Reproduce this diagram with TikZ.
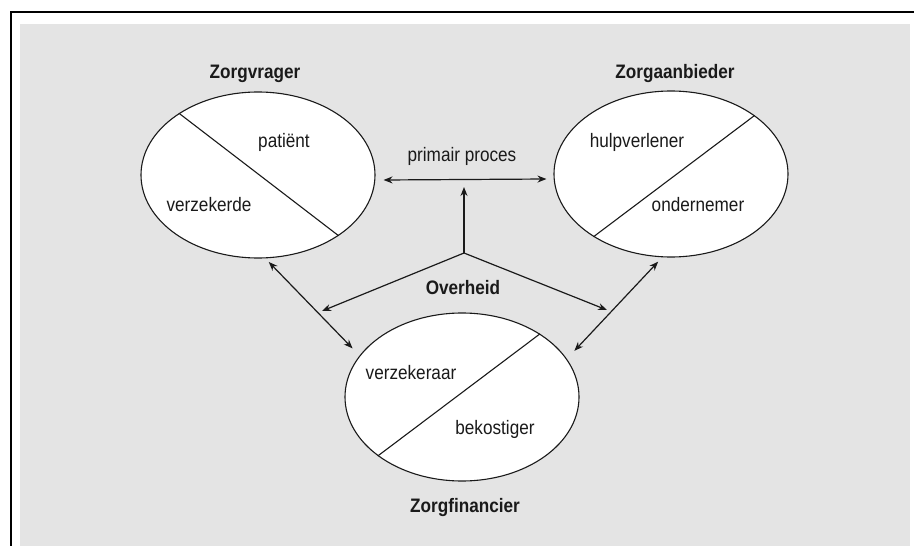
\documentclass[tikz,border=0pt]{standalone}
\usepackage{fontspec}
\setmainfont{Liberation Sans}[FakeStretch=0.88]
\usetikzlibrary{arrows.meta,calc,shapes.geometric}
\definecolor{panelF}{HTML}{E4E4E4}
\definecolor{lineC}{HTML}{1A1A1A}
\tikzset{
  oval/.style={ellipse, draw=lineC, fill=white, line width=1.1pt, minimum width=234pt,
               minimum height=166pt, inner sep=0pt},
  split/.style={draw=lineC, line width=1.1pt},
  txt/.style={anchor=base, inner sep=0pt, font=\fontsize{19.5}{22}\selectfont, text=lineC},
  ttl/.style={txt, font=\fontsize{19.5}{22}\selectfont\bfseries},
  arr/.style={-{Stealth[length=9pt,width=7pt]}, draw=lineC, line width=1.2pt},
  darr/.style={{Stealth[length=9pt,width=7pt]}-{Stealth[length=9pt,width=7pt]}, draw=lineC, line width=1.2pt},
}

\begin{document}
\begin{tikzpicture}[x=1pt,y=-1pt]
\useasboundingbox (0,0) rectangle (914,546);
\fill[panelF] (20,24) rectangle (910,546);
\draw[line width=2pt] (914,12) -- (11,12) -- (11,546);
\node[oval] (vrager) at (258,175) {};
\node[oval] (aanbieder) at (671,174) {};
\node[oval, minimum height=168pt] (financier) at (462,397) {};
\draw[split] (vrager.142) -- (vrager.-37);
\draw[split] (aanbieder.-141) -- (aanbieder.35);
\draw[split] (financier.-145) -- (financier.39);
\node[ttl] (tvrager) at (255,78) {Zorgvrager};
\node[ttl] (taanbieder) at (675,78) {Zorgaanbieder};
\node[ttl] (tfinancier) at (465,512) {Zorgfinancier};
\node[txt] (patient) at (284,147) {patiënt};
\node[txt] (verzekerde) at (209,211) {verzekerde};
\node[txt] (hulp) at (637,147) {hulpverlener};
\node[txt] (ondernemer) at (698,211) {ondernemer};
\node[txt] (verzekeraar) at (411,379) {verzekeraar};
\node[txt] (bekostiger) at (495,434) {bekostiger};
\node[txt] (primair) at (462,161) {primair proces};
\node[ttl] (overheid) at (463,294) {Overheid};
\coordinate (ov) at (464,253);
\coordinate (pp) at (464,180);
\coordinate (ovL) at (322,311);
\coordinate (ovR) at (607,310);
\draw[darr] ([shift={(8,5)}]vrager.east) -- ([shift={(-7,5)}]aanbieder.west);
\draw[arr, shorten >=7pt] (ov) -- (pp);
\draw[arr] (ov) -- (ovL);
\draw[arr] (ov) -- (ovR);
\draw[darr, shorten <=5pt, shorten >=10pt] (vrager.-85) -- (financier.158);
\draw[darr, shorten <=6pt, shorten >=11pt] (aanbieder.-96) -- (financier.20);
\end{tikzpicture}
\end{document}
